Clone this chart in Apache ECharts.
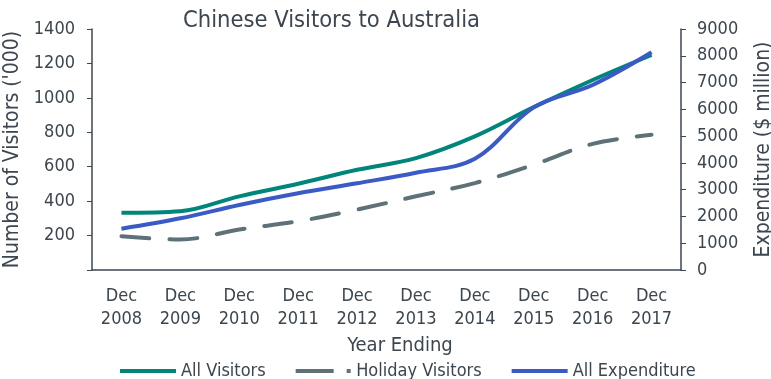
<!DOCTYPE html>
<html>
<head>
<meta charset="utf-8">
<script src="https://cdn.jsdelivr.net/npm/echarts@6/dist/echarts.min.js"></script>
<style>html,body{margin:0;padding:0;background:#fff}#c{width:771px;height:379px}</style>
</head>
<body>
<div id="c"></div>
<script>
const categories = ['Dec\n2008','Dec\n2009','Dec\n2010','Dec\n2011','Dec\n2012','Dec\n2013','Dec\n2014','Dec\n2015','Dec\n2016','Dec\n2017'];
const allVisitors = [332, 341, 428, 501, 582, 650, 776, 946, 1104, 1249];
const holidayVisitors = [196, 177, 235, 283, 351, 428, 505, 612, 733, 786];
const allExpenditure = [1542, 1930, 2427, 2864, 3237, 3634, 4150, 6075, 6908, 8129];

const txt = '#3c4650';
const font = '"DejaVu Sans Condensed", "DejaVu Sans", sans-serif';
const chart = echarts.init(document.getElementById('c'));
chart.setOption({
  animation: false,
  textStyle: {fontFamily: font, color: txt},
  title: {text: 'Chinese Visitors to Australia', left: 178, top: 4,
    textStyle: {fontFamily: font, fontSize: 23.5, fontWeight: 'normal', color: txt}},
  grid: {left: 92, right: 90, top: 29, bottom: 109, outerBoundsMode: 'none', containLabel: false},
  legend: {
    top: 357, left: 115, itemGap: 30, itemWidth: 56, itemHeight: 4,
    textStyle: {fontFamily: font, fontSize: 18, color: txt},
    data: [
      {name: 'All Visitors', icon: 'rect'},
      {name: 'Holiday Visitors', icon: 'path://M0,0 H38 V4 H0 Z M51,0 H55 V4 H51 Z'},
      {name: 'All Expenditure', icon: 'rect'}
    ]
  },
  xAxis: {
    type: 'category', data: categories, boundaryGap: true,
    name: 'Year Ending', nameLocation: 'middle', nameGap: 64,
    nameTextStyle: {fontFamily: font, fontSize: 20, color: txt, padding: [0, 0, 0, 27]},
    axisLine: {lineStyle: {color: '#3c4650', width: 1.5}},
    axisTick: {show: false},
    axisLabel: {fontFamily: font, fontSize: 18, color: txt, lineHeight: 23, margin: 15}
  },
  yAxis: [
    {
      type: 'value', min: 0, max: 1400, interval: 200,
      name: "Number of Visitors ('000)", nameLocation: 'middle', nameGap: 66,
      nameTextStyle: {fontFamily: font, fontSize: 21, color: txt},
      axisLine: {show: true, lineStyle: {color: '#3c4650', width: 1.5}},
      axisTick: {show: true, length: 5},
      splitLine: {show: false},
      axisLabel: {fontFamily: font, fontSize: 18, color: txt, margin: 17,
        formatter: v => v === 0 ? '' : String(v)}
    },
    {
      type: 'value', min: 0, max: 9000, interval: 1000,
      name: 'Expenditure ($ million)', nameLocation: 'middle', nameGap: 72,
      nameTextStyle: {fontFamily: font, fontSize: 21, color: txt},
      axisLine: {show: true, lineStyle: {color: '#3c4650', width: 1.5}},
      axisTick: {show: true, length: 5},
      splitLine: {show: false},
      axisLabel: {fontFamily: font, fontSize: 18, color: txt, margin: 16,
        formatter: v => String(v)}
    }
  ],
  series: [
    {name: 'All Visitors', type: 'line', data: allVisitors, yAxisIndex: 0, smooth: 0.35,
     showSymbol: false, color: '#00857a', lineStyle: {width: 4, color: '#00857a'}},
    {name: 'Holiday Visitors', type: 'line', data: holidayVisitors, yAxisIndex: 0, smooth: 0.35,
     showSymbol: false, color: '#5e7178', lineStyle: {width: 4, color: '#5e7178', type: [28, 20], cap: 'round'}},
    {name: 'All Expenditure', type: 'line', data: allExpenditure, yAxisIndex: 1, smooth: 0.35,
     showSymbol: false, color: '#3a5ac6', lineStyle: {width: 4, color: '#3a5ac6'}}
  ]
});
</script>
</body>
</html>
